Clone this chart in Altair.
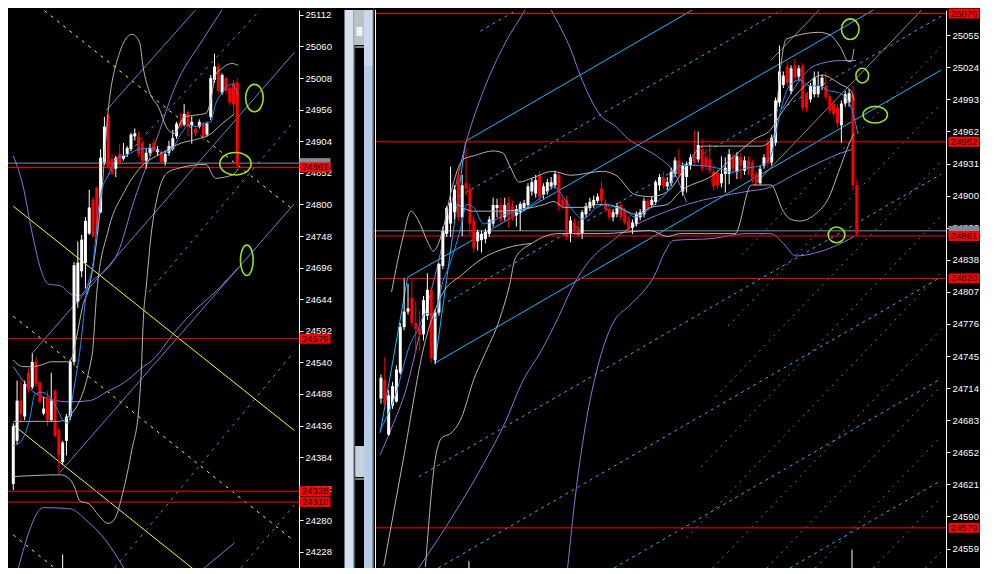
import altair as alt
import pandas as pd

LW, RW, H = 291, 572, 558
GAP = 75
GREEN = "#9be21c"
FONT = "Liberation Sans"

# ---------------- axis tick labels ----------------
L_ticks = [24228, 24280, 24332, 24384, 24436, 24488, 24540, 24592, 24644, 24696,
           24748, 24800, 24852, 24904, 24956, 25008, 25060, 25112]
R_ticks = [24559, 24590, 24621, 24652, 24683, 24714, 24745, 24776, 24807, 24838,
           24869, 24900, 24931, 24962, 24993, 25024, 25055]

# ---------------- left panel candles ----------------
L_open = [24340, 24411, 24477, 24451, 24523, 24499, 24541, 24507, 24456, 24483,
          24445, 24493, 24429, 24376, 24411, 24451, 24541, 24640, 24690, 24704,
          24752, 24808, 24827, 24787, 24869, 24947, 24875, 24859, 24883, 24875,
          24883, 24891, 24912, 24912, 24901, 24872, 24885, 24901, 24886, 24886,
          24870, 24885, 24891, 24912, 24936, 24931, 24952, 24929, 24925, 24928,
          24933, 24915, 24944, 25005, 25027, 24984, 25008, 24992, 25000, 25000]
L_high = [24440, 24510, 24510, 24510, 24530, 24555, 24549, 24509, 24483, 24493,
          24523, 24496, 24432, 24411, 24455, 24545, 24705, 24739, 24750, 24779,
          24824, 24812, 24830, 24891, 24944, 24950, 24883, 24880, 24899, 24901,
          24896, 24918, 24925, 24920, 24905, 24893, 24900, 24908, 24896, 24890,
          24888, 24905, 24923, 24936, 24950, 24965, 24955, 24945, 24930, 24940,
          24936, 24936, 25013, 25048, 25032, 25016, 25010, 24995, 25005, 25008]
L_low = [24330, 24405, 24440, 24445, 24490, 24496, 24499, 24472, 24453, 24435,
         24442, 24416, 24360, 24371, 24387, 24445, 24535, 24630, 24680, 24662,
         24750, 24745, 24750, 24785, 24865, 24858, 24848, 24845, 24865, 24872,
         24878, 24888, 24905, 24878, 24864, 24859, 24880, 24885, 24880, 24867,
         24864, 24880, 24888, 24908, 24925, 24928, 24912, 24900, 24912, 24925,
         24905, 24912, 24939, 25000, 24984, 24980, 24982, 24963, 24950, 24862]
L_close = [24435, 24477, 24455, 24504, 24496, 24541, 24504, 24475, 24464, 24445,
           24477, 24419, 24387, 24408, 24451, 24541, 24700, 24704, 24742, 24773,
           24795, 24747, 24752, 24877, 24928, 24861, 24851, 24877, 24869, 24880,
           24893, 24915, 24917, 24883, 24872, 24885, 24893, 24888, 24891, 24870,
           24883, 24896, 24909, 24933, 24928, 24949, 24928, 24936, 24917, 24936,
           24912, 24933, 25008, 25027, 24987, 25013, 24987, 24968, 24965, 24864]

# ---------------- right panel candles ----------------
R_open = [24704, 24722, 24669, 24697, 24701, 24729, 24773, 24788, 24801, 24777,
          24771, 24766, 24784, 24809, 24741, 24787, 24832, 24863, 24873, 24884,
          24920, 24879, 24912, 24907, 24876, 24856, 24857, 24858, 24863, 24873,
          24888, 24891, 24879, 24893, 24890, 24881, 24884, 24888, 24891, 24904,
          24902, 24920, 24901, 24904, 24909, 24910, 24920, 24896, 24896, 24863,
          24874, 24869, 24863, 24882, 24888, 24891, 24895, 24907, 24893, 24887,
          24879, 24882, 24891, 24885, 24876, 24869, 24873, 24879, 24882, 24895,
          24891, 24894, 24910, 24917, 24909, 24912, 24921, 24934, 24904, 24918,
          24929, 24938, 24935, 24945, 24937, 24935, 24923, 24922, 24912, 24921,
          24921, 24937, 24923, 24937, 24924, 24934, 24932, 24921, 24912, 24929,
          24951, 24932, 24951, 24990, 25007, 25025, 25001, 25026, 25015, 25025,
          24998, 24993, 24998, 24998, 25006, 25006, 24996, 24989, 24985, 24968,
          24989, 24990, 24998, 24910]
R_high = [24727, 24744, 24712, 24720, 24736, 24777, 24820, 24815, 24819, 24798,
          24789, 24803, 24825, 24812, 24790, 24835, 24870, 24890, 24928, 24910,
          24925, 24920, 24947, 24912, 24880, 24867, 24866, 24868, 24880, 24898,
          24897, 24898, 24898, 24899, 24895, 24891, 24894, 24896, 24912, 24917,
          24920, 24924, 24912, 24916, 24918, 24924, 24922, 24898, 24900, 24880,
          24878, 24876, 24886, 24893, 24898, 24900, 24902, 24914, 24897, 24890,
          24887, 24893, 24895, 24888, 24880, 24877, 24885, 24887, 24898, 24898,
          24899, 24915, 24921, 24923, 24918, 24927, 24937, 24945, 24932, 24933,
          24940, 24963, 24962, 24955, 24945, 24950, 24930, 24925, 24938, 24937,
          24945, 24941, 24942, 24941, 24938, 24938, 24935, 24924, 24929, 24940,
          24955, 24959, 24995, 25045, 25020, 25030, 25026, 25032, 25026, 25028,
          25000, 25009, 25020, 25020, 25017, 25020, 24999, 24992, 24988, 24992,
          25001, 25003, 25006, 24915]
R_low = [24699, 24697, 24668, 24694, 24700, 24727, 24770, 24785, 24774, 24747,
         24750, 24760, 24780, 24738, 24737, 24784, 24829, 24860, 24860, 24877,
         24875, 24861, 24900, 24862, 24845, 24847, 24845, 24854, 24860, 24870,
         24879, 24874, 24876, 24869, 24876, 24870, 24866, 24885, 24888, 24900,
         24898, 24895, 24897, 24901, 24906, 24907, 24885, 24887, 24857, 24855,
         24862, 24860, 24858, 24879, 24885, 24888, 24893, 24890, 24884, 24876,
         24875, 24879, 24876, 24872, 24865, 24863, 24870, 24876, 24879, 24885,
         24888, 24891, 24905, 24906, 24905, 24909, 24918, 24918, 24900, 24903,
         24925, 24929, 24932, 24923, 24925, 24921, 24905, 24907, 24908, 24903,
         24911, 24921, 24916, 24916, 24920, 24920, 24912, 24909, 24910, 24926,
         24928, 24929, 24948, 24986, 25004, 25006, 24998, 25010, 25012, 24982,
         24981, 24990, 24995, 24995, 25002, 24992, 24979, 24976, 24966, 24951,
         24986, 24986, 24905, 24861]
R_close = [24724, 24699, 24707, 24716, 24732, 24773, 24788, 24791, 24777, 24771,
           24766, 24799, 24809, 24743, 24787, 24834, 24866, 24888, 24893, 24906,
           24879, 24910, 24907, 24873, 24849, 24865, 24863, 24865, 24877, 24891,
           24891, 24876, 24891, 24879, 24879, 24887, 24892, 24893, 24909, 24913,
           24915, 24899, 24909, 24913, 24913, 24921, 24890, 24890, 24860, 24876,
           24866, 24862, 24884, 24890, 24894, 24896, 24899, 24895, 24887, 24879,
           24884, 24890, 24879, 24874, 24868, 24874, 24882, 24884, 24895, 24888,
           24896, 24913, 24918, 24909, 24913, 24923, 24934, 24921, 24929, 24930,
           24937, 24932, 24949, 24926, 24928, 24924, 24909, 24910, 24921, 24927,
           24940, 24926, 24938, 24929, 24934, 24925, 24916, 24913, 24926, 24937,
           24931, 24956, 24992, 25020, 25016, 25009, 25023, 25014, 25023, 24985,
           24985, 25006, 25014, 25006, 25014, 24995, 24982, 24979, 24970, 24989,
           24998, 24999, 24910, 24863]

# ---------------- left panel indicator curves (bar index, price) ----------------
L_ma = [(0, 24403), (2, 24410), (4.25, 24445), (5.75, 24488), (7.5, 24491), (10, 24480),
        (11.75, 24461), (13.25, 24443), (14.5, 24440), (15.75, 24488), (17.5, 24557),
        (19.5, 24664), (20.75, 24693), (23, 24816), (25, 24848), (27.5, 24877), (30, 24882),
        (33.25, 24891), (36.75, 24893), (39.25, 24885), (41.75, 24891), (44.25, 24917),
        (46.25, 24931), (48.25, 24928), (50, 24933), (52, 24936), (53.25, 24965), (55, 24984),
        (57.5, 24998), (59.25, 24981)]
L_grey = {
    "up": [(0, 24544), (2.5, 24533), (5, 24533), (7.5, 24536), (10, 24541), (14.5, 24541),
           (15.5, 24549), (16.75, 24584), (18.25, 24632), (20, 24664), (23.25, 24816),
           (25, 24955), (27.5, 25040), (31.25, 25080), (33.25, 25067), (34.25, 25024),
           (35.75, 24987), (38.25, 24960), (40.75, 24923), (42.5, 24917), (45, 24944),
           (48, 24947), (50.75, 24950), (52, 24971), (53.25, 25013), (55, 25024),
           (57.5, 25032), (59.25, 25029)],
    "mid": [(0, 24443), (12, 24443), (15, 24453), (20.75, 24552), (22, 24656), (25, 24757),
            (29.25, 24821), (33.25, 24859), (39.25, 24885), (44.25, 24901), (48.25, 24907),
            (51.75, 24915), (55, 24933), (58.25, 24949)],
    "low": [(0, 24352), (12.5, 24355), (15, 24347), (16.25, 24333), (17.5, 24312), (20, 24307),
            (22.5, 24288), (25, 24275), (26.75, 24283), (28.75, 24323), (31.25, 24397),
            (33, 24461), (33.75, 24531), (34.25, 24611), (35, 24664), (36.25, 24747),
            (38.25, 24821), (40.75, 24853), (43.25, 24859), (46.75, 24864), (50.75, 24866),
            (52.5, 24848), (53.25, 24843), (55.75, 24845), (58.25, 24851), (59.25, 24859)],
}
L_purple = {
    "up": [(0, 24880), (2.5, 24832), (5, 24752), (7.5, 24688), (9.25, 24669), (12.5, 24666),
           (15, 24653), (17.5, 24650), (20, 24669), (27.5, 24720), (31.75, 24805), (38, 24912),
           (42.5, 24992), (50, 25072), (55.5, 25125)],
    "low": [(0, 24533), (5, 24493), (9.25, 24480), (15, 24475), (20, 24477), (25, 24493),
            (29.25, 24507), (33.25, 24528), (37.5, 24549), (41.75, 24584), (45.75, 24613),
            (54.5, 24664), (59.25, 24696)],
    "b1": [(1.25, 24200), (8, 24301), (15, 24299), (19.25, 24280), (24.25, 24248), (29.25, 24200)],
    "b2": [(50, 24200), (58.25, 24243)],
}
# ---------------- left panel drawn objects ----------------
L_yellow_solid = {"A": [(0, 24797), (74, 24428)], "B": [(0, 24437), (74, 24067)]}
L_yellow_dash = {"C": [(0, 25160), (74, 24790)], "D": [(0, 24616), (74, 24246)],
                 "E": [(0, 24256), (74, 23886)]}
L_steel_solid = {"L1": [(5, 24555), (74, 25050)], "L2": [(12, 24357), (74, 24801)],
                 "L3": [(24.5, 24955), (48, 25120)]}
L_steel_dash = {"D1": [(25, 24848), (65, 25120)], "D2": [(35.75, 24656), (74, 24938)],
                "D3": [(26.75, 24202), (74, 24558)], "D4": [(60, 24202), (74, 24305)]}
L_red_levels = [24861, 24579, 24328, 24310]
L_grey_levels = [24868]
L_ell_x = [63.5, 58.5, 61.5]
L_ell_p = [24975, 24867, 24708]
L_sep_x = [13]
L_sep_p1 = [24201.6]
L_sep_p2 = [24224]

# ---------------- right panel indicator curves ----------------
R_ma = [(-0.25, 24672.6), (4, 24710.2), (7.25, 24753.4), (9.75, 24772.2), (11.5, 24786.3),
        (12.75, 24785.4), (14, 24781.6), (15.75, 24813.6), (17.75, 24833.3), (20.25, 24863.3),
        (22.25, 24891.5), (24, 24888.7), (26.5, 24872.7), (29, 24875.5), (32.25, 24882.1),
        (35.75, 24885.0), (39, 24891.5), (42.25, 24900.9), (44.75, 24908.4), (47.25, 24898.1),
        (49.75, 24885.0), (52.25, 24877.4), (55.75, 24888.7), (58.25, 24891.5), (60.75, 24888.7),
        (63.25, 24885.0), (65.75, 24879.3), (68.25, 24884.0), (71.5, 24894.3), (74, 24903.7),
        (77.25, 24929.1), (82.25, 24929.1), (87.25, 24926.3), (90.75, 24922.5), (94, 24926.3),
        (98.25, 24929.1), (100.75, 24938.5), (102.25, 24963.9), (104, 24992.0), (105.75, 25007.1),
        (108.25, 25011.8), (110.75, 25006.1), (113.25, 25006.1), (115.75, 25001.4),
        (118.25, 24999.6), (120.75, 24992.0), (122.25, 24976.1), (123.25, 24960.1)]
R_grey = {
    "up": [(2.75, 24807.0), (5.75, 24860.5), (7.75, 24885.0), (9.75, 24875.5), (12.25, 24853.9),
           (13.5, 24846.4), (15.75, 24863.3), (18.25, 24905.6), (20.25, 24929.1), (21.5, 24935.7),
           (24, 24938.5), (29, 24943.2), (31.5, 24941.3), (33.25, 24929.1), (35.75, 24913.1),
           (39, 24916.9), (44.5, 24923.5), (49, 24919.7), (57.25, 24923.5), (60.75, 24919.7),
           (65.75, 24900.9), (69.75, 24899.0), (74, 24903.7), (79, 24929.1), (83.25, 24947.9),
           (89.75, 24947.9), (98.25, 24947.9), (101.5, 24957.3), (103.25, 25023.0),
           (104.75, 25051.2), (113.25, 25057.8), (115.75, 25055.9), (119, 25041.8),
           (120.75, 25029.6), (121.5, 25029.6), (122.25, 25041.8)],
    "mid": [(19.75, 24891.5), (24, 24885.0), (30.75, 24885.0), (36.5, 24886.8), (42.25, 24891.5),
            (44.75, 24894.4), (47.25, 24888.7), (52.25, 24888.7), (56.5, 24891.5), (61.5, 24888.7),
            (65.75, 24882.1), (69.75, 24888.7), (74, 24891.5), (77.25, 24903.7), (85.75, 24919.7),
            (92.25, 24941.3), (96.5, 24954.5), (100.75, 24963.8), (104, 24982.6), (109, 25004.2),
            (114, 25016.5), (119, 25007.1), (121.5, 25001.4), (122.25, 24992.0)],
    "low": [(11.5, 24541.1), (14, 24644.5), (15.75, 24666.1), (18.25, 24670.8), (20.75, 24684.8),
            (24, 24722.4), (26.5, 24744.0), (30.75, 24781.6), (33.25, 24813.6), (34.75, 24839.9),
            (39, 24853.9), (45.75, 24863.3), (57.25, 24863.3), (69.75, 24866.2), (74, 24860.5),
            (77.25, 24863.3), (91.5, 24863.3), (95.75, 24910.3), (100.75, 24910.3), (104, 24884.9),
            (105.75, 24877.4), (108.25, 24875.5), (112.25, 24882.1), (115.75, 24898.1),
            (118.25, 24922.5), (120.75, 24947.9), (122.25, 24960.1)],
    "y": [(0.75, 24542.1), (5.75, 24644.5), (11.5, 24760.0), (15.75, 24804.2), (20.75, 24823.0),
          (26.5, 24839.9), (32.25, 24849.2), (39, 24853.9)],
}
R_purple = {
    "A": [(-0.25, 24649.2), (2.75, 24675.5), (6.5, 24713.0), (10.25, 24769.4), (14.4, 24828.9),
          (18.2, 24891.5), (22.25, 24954.5), (26.5, 25001.4), (32.25, 25048.4), (37.25, 25079.4),
          (40.75, 25102.9), (44, 25079.4), (49, 25041.8), (51.5, 25016.5), (54, 24994.9),
          (56.5, 24978.9), (60.75, 24966.7), (64, 24954.5), (68.25, 24945.1), (72.25, 24935.7),
          (75.75, 24922.5), (79, 24893.4)],
    "B": [(9.75, 24540.2), (19.75, 24597.5), (26.5, 24640.7), (32.25, 24682.0), (36.5, 24719.6),
          (41.5, 24750.6), (45.75, 24781.6), (49.75, 24813.6), (55.75, 24844.6), (59, 24854.0),
          (63.25, 24866.2), (69, 24877.4), (74, 24885.0), (79, 24891.5), (87.25, 24899.0),
          (94, 24903.7), (100.75, 24908.4), (106.5, 24919.7), (113.25, 24931.9), (119, 24941.3),
          (122.25, 24945.1)],
    "C": [(104, 24985.5), (107.75, 25009.0), (112.25, 25025.9), (119, 25030.6), (122.75, 25030.6)],
    "D": [(48.25, 24540.2), (50.25, 24609.7), (52.75, 24675.4), (56.5, 24741.2), (60.25, 24778.8),
          (64, 24792.9), (67.75, 24807.0), (70.75, 24823.0), (73.25, 24844.6), (75.75, 24856.8),
          (85.75, 24858.6), (94, 24863.3), (100.75, 24863.3), (104, 24853.9), (107.25, 24841.7),
          (112.25, 24844.6), (117.25, 24851.1), (122.25, 24860.5)],
}
# ---------------- right panel drawn objects ----------------
R_cyan_solid = {"leg1": [(-0.2, 24670.8), (6.9, 24821.1)],
                "mid": [(6.9, 24821.1), (127.3, 25079.4)],
                "low": [(14, 24738.4), (144.75, 25021.3)],
                "leg2": [(14, 24738.4), (21.9, 24952.6)],
                "top": [(21.9, 24952.6), (80.5, 25079.4)]}
R_cyan_dash = {"C1": [(25.7, 25059), (35.1, 25079.4)],
               "C2": [(20.25, 24899.3), (103.45, 25079.4)],
               "C3": [(17.3, 24797.6), (144.75, 25073.4)],
               "C4": [(9.8, 24628.5), (144.75, 24920.6)],
               "C5": [(14.8, 24540.2), (144.75, 24821.3)],
               "C6": [(60.25, 24540.2), (144.75, 24723.1)],
               "C7": [(105.7, 24540.2), (144.75, 24624.7)]}
R_grey_dash = {"g1": [(79, 24569.3), (144.75, 24826.2)],
               "g2": [(82.75, 24637.9), (144.75, 24880.2)],
               "g3": [(86.5, 24705.5), (144.75, 24933.1)],
               "g4": [(89.75, 24774.1), (144.75, 24989.0)],
               "g5": [(93.25, 24842.7), (144.75, 25043.9)],
               "g6": [(85.75, 24540.2), (144.75, 24770.7)],
               "g7": [(99.75, 24540.2), (144.75, 24716.0)],
               "g8": [(112.25, 24540.2), (144.75, 24667.2)],
               "g9": [(127.25, 24540.2), (144.75, 24608.6)],
               "g10": [(140.75, 24540.2), (144.75, 24555.8)]}
R_grey_solid = {"s1": [(96.5, 24910.3), (139.75, 25079.4)],
                "s2": [(100.75, 25030.6), (113.25, 25079.4)]}
R_red_levels = [25076, 24952, 24861, 24820, 24579]
R_grey_levels = [24866]
R_ell_x = [121.3, 124.4, 127.75, 117.75]
R_ell_p = [25060.9, 25016.0, 24978.2, 24862.1]
R_sep_x = [22.75, 121.75]
R_sep_p1 = [24540.2, 24540.2]
R_sep_p2 = [24546.8, 24558.0]

# ---------------- scales & axes ----------------
xsL = alt.Scale(domain=[-0.075, 73.925], nice=False, zero=False)
ysL = alt.Scale(domain=[24201.6, 25120], nice=False, zero=False)
xsR = alt.Scale(domain=[-0.5, 144.75], nice=False, zero=False)
ysR = alt.Scale(domain=[24540.2, 25079.4], nice=False, zero=False)


def price_axis(vals):
    return alt.Axis(orient="right", values=vals, format="d", labelColor="white",
                    tickColor="white", domainColor="white", domainWidth=1, tickSize=4,
                    labelPadding=2, labelFont=FONT, labelFontSize=9.5, grid=False,
                    title=None, labelOverlap=False, labelFlush=False)


AXES = {id(ysL): price_axis(L_ticks), id(ysR): price_axis(R_ticks)}


def Y(field, ys):
    return alt.Y(field, scale=ys, axis=AXES[id(ys)], title=None)


def frame(d):
    rows = []
    for g, pts in d.items():
        for k, (x, p) in enumerate(pts):
            rows.append({"g": g, "k": k, "x": x, "p": p})
    return pd.DataFrame(rows)


def lines(d, xs, ys, color, dash=None, width=1.0, interp="linear"):
    props = dict(color=color, strokeWidth=width, clip=True, interpolate=interp)
    if dash is not None:
        props["strokeDash"] = dash
    return alt.Chart(frame(d)).mark_line(**props).encode(
        x=alt.X("x:Q", scale=xs, axis=None),
        y=Y("p:Q", ys),
        detail="g:N", order="k:Q")


def hlines(vals, ys, color):
    return alt.Chart(pd.DataFrame({"p": vals})).mark_rule(
        color=color, strokeWidth=1, clip=True).encode(y=Y("p:Q", ys))


def candles(o, h, l, c, xs, ys):
    df = pd.DataFrame({"i": list(range(len(o))), "o": o, "h": h, "l": l, "c": c})
    df["col"] = ["#ffffff" if cc >= oo else "#ff0000" for oo, cc in zip(o, c)]
    wick = alt.Chart(df).mark_rule(strokeWidth=1, clip=True).encode(
        x=alt.X("i:Q", scale=xs, axis=None),
        y=Y("l:Q", ys), y2="h:Q",
        color=alt.Color("col:N", scale=None))
    body = alt.Chart(df).mark_bar(size=3, clip=True).encode(
        x=alt.X("i:Q", scale=xs, axis=None),
        y=Y("o:Q", ys), y2="c:Q",
        color=alt.Color("col:N", scale=None))
    return [wick, body]


def tags(vals, ys, w, fill, with_text=True, cx=16):
    df = pd.DataFrame({"p": vals})
    out = [alt.Chart(df).mark_tick(orient="horizontal", thickness=10, color=fill,
                                   opacity=1, clip=False).encode(
        x=alt.value(w + cx), y=Y("p:Q", ys), size=alt.value(31))]
    if with_text:
        out.append(alt.Chart(df).mark_text(font=FONT, fontSize=9.5, color="black",
                                           align="center", baseline="middle",
                                           clip=False).encode(
            x=alt.value(w + cx), y=Y("p:Q", ys),
            text=alt.Text("p:Q", format="d")))
    return out


def ellipse(x, p, w, h, xs, ys):
    a, b = w * 0.98 / 20, h * 0.98 / 20
    k = 0.5523
    path = (f"M{a:.3f},0C{a:.3f},{k*b:.3f} {k*a:.3f},{b:.3f} 0,{b:.3f}"
            f"C{-k*a:.3f},{b:.3f} {-a:.3f},{k*b:.3f} {-a:.3f},0"
            f"C{-a:.3f},{-k*b:.3f} {-k*a:.3f},{-b:.3f} 0,{-b:.3f}"
            f"C{k*a:.3f},{-b:.3f} {a:.3f},{-k*b:.3f} {a:.3f},0Z")
    return alt.Chart(pd.DataFrame({"x": [x], "p": [p]})).mark_point(
        shape=path, size=400, filled=False, color=GREEN, strokeWidth=1.6,
        opacity=1, clip=True).encode(
        x=alt.X("x:Q", scale=xs, axis=None), y=Y("p:Q", ys))


def seps(xv, p1, p2, xs, ys):
    df = pd.DataFrame({"x": xv, "p1": p1, "p2": p2})
    return alt.Chart(df).mark_rule(color="white", strokeWidth=1, clip=True).encode(
        x=alt.X("x:Q", scale=xs, axis=None),
        y=Y("p1:Q", ys), y2="p2:Q")


dummy = pd.DataFrame({"k": [0]})


def vrect(x1, x2, y1, y2, color):
    return alt.Chart(dummy).mark_rect(color=color).encode(
        x=alt.value(x1), x2=alt.value(x2), y=alt.value(y1), y2=alt.value(y2))


# ---------------- left panel ----------------
left_layers = [
    lines(L_yellow_solid, xsL, ysL, "#ffff00"),
    lines(L_yellow_dash, xsL, ysL, "#ffff00", dash=[3, 5]),
    lines(L_steel_solid, xsL, ysL, "#4f8ed6"),
    lines(L_steel_dash, xsL, ysL, "#4f8ed6", dash=[3, 5]),
    lines(L_purple, xsL, ysL, "#9370db", interp="monotone"),
    hlines(L_grey_levels, ysL, "#8090a0"),
    hlines(L_red_levels, ysL, "#ff0000"),
    *candles(L_open, L_high, L_low, L_close, xsL, ysL),
    lines(L_grey, xsL, ysL, "#b4b4b4", interp="monotone"),
    lines({"ma": L_ma}, xsL, ysL, "#1e90ff", interp="monotone"),
    seps(L_sep_x, L_sep_p1, L_sep_p2, xsL, ysL),
    ellipse(L_ell_x[0], L_ell_p[0], 18, 28, xsL, ysL),
    ellipse(L_ell_x[1], L_ell_p[1], 32, 23, xsL, ysL),
    ellipse(L_ell_x[2], L_ell_p[2], 13, 31, xsL, ysL),
    *tags(L_grey_levels, ysL, LW, "#808a98", with_text=False),
    *tags(L_red_levels, ysL, LW, "#ff0000"),
]
left = alt.layer(*left_layers).properties(width=LW, height=H)

# ---------------- right panel ----------------
right_layers = [
    lines(R_grey_dash, xsR, ysR, "#7a7a7a", dash=[2, 5]),
    lines(R_grey_solid, xsR, ysR, "#8a8a8a"),
    lines(R_cyan_dash, xsR, ysR, "#1ab8ff", dash=[3, 4]),
    lines(R_cyan_solid, xsR, ysR, "#1ab8ff"),
    lines(R_purple, xsR, ysR, "#9370db", interp="monotone"),
    hlines(R_grey_levels, ysR, "#8090a0"),
    hlines(R_red_levels, ysR, "#ff0000"),
    *candles(R_open, R_high, R_low, R_close, xsR, ysR),
    lines(R_grey, xsR, ysR, "#b4b4b4", interp="monotone"),
    lines({"ma": R_ma}, xsR, ysR, "#1e90ff", interp="monotone"),
    seps(R_sep_x, R_sep_p1, R_sep_p2, xsR, ysR),
    ellipse(R_ell_x[0], R_ell_p[0], 18, 21, xsR, ysR),
    ellipse(R_ell_x[1], R_ell_p[1], 13, 15, xsR, ysR),
    ellipse(R_ell_x[2], R_ell_p[2], 25, 17, xsR, ysR),
    ellipse(R_ell_x[3], R_ell_p[3], 17, 16, xsR, ysR),
    *tags(R_grey_levels, ysR, RW, "#808a98", with_text=False, cx=18),
    *tags(R_red_levels, ysR, RW, "#ff0000", cx=18),
    # window divider / scrollbar strip to the left of the plot
    vrect(-29.5, -20.2, 0, H, "#d8e2ee"),
    vrect(-20.2, -18.8, 0, H, "#4a525c"),
    vrect(-20.2, -10, 0, 35, "#b9c1cb"),
    vrect(-17.5, -11.5, 17, 26, "#eef1f5"),
    vrect(-18.8, -10, 36.5, 37.5, "#ffffff"),
    vrect(-18.8, -10, 436, 467, "#c6d2de"),
    vrect(-18.8, -10, 468.5, 469.5, "#ffffff"),
    vrect(-10, -1.2, 0, H, "#b7cbe4"),
    vrect(-10, -1.2, 0, 56, "#c9d8ec"),
    vrect(-1.2, 0, 0, H, "#4a525c"),
    vrect(1, 2, 0, H, "#ffffff"),
]
right = alt.layer(*right_layers).properties(width=RW, height=H)

chart = alt.hconcat(left, right, spacing=GAP, bounds="flush").properties(
    padding=0, background="#000000").configure_view(strokeWidth=0)

chart.save("out.html", embed_options={"renderer": "svg", "actions": False})
